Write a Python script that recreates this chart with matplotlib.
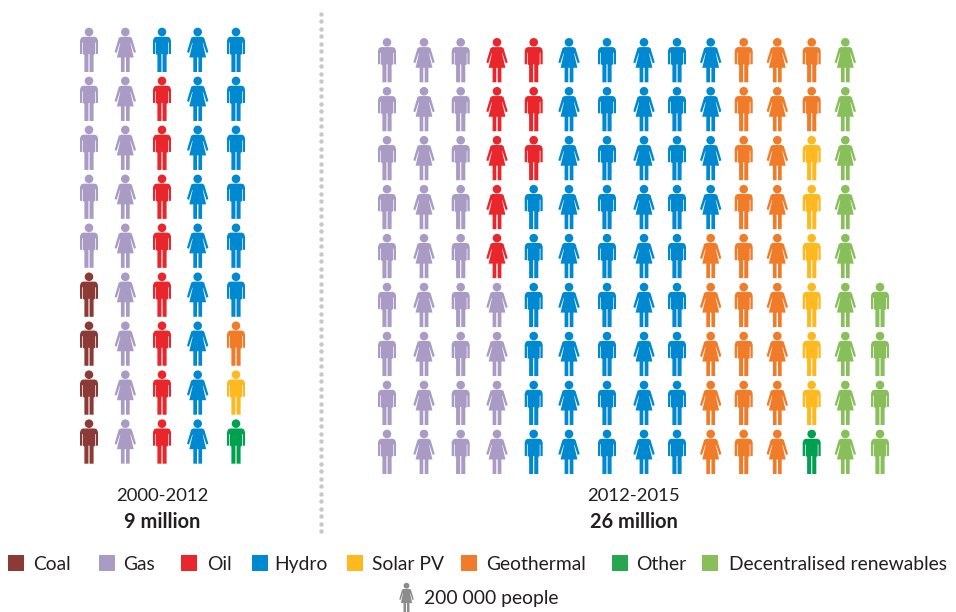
import matplotlib
matplotlib.use('Agg')
from matplotlib import pyplot as plt
from matplotlib.patches import PathPatch, Rectangle
from matplotlib.path import Path
from matplotlib.transforms import Affine2D
import numpy as np

plt.rcParams['font.family'] = ['Lato', 'DejaVu Sans']

colors = {'Coal': '#8a3b36', 'Gas': '#a99bc4', 'Oil': '#e8262b', 'Hydro': '#0089d0',
          'Solar PV': '#fdb91f', 'Geothermal': '#f07b29', 'Other': '#00a050',
          'Decentralised renewables': '#88bf5b'}

# each column top to bottom, one person = 200 000 people
left_cols = [
    ['Gas'] * 5 + ['Coal'] * 4,
    ['Gas'] * 9,
    ['Hydro'] * 1 + ['Oil'] * 8,
    ['Hydro'] * 9,
    ['Hydro'] * 6 + ['Geothermal', 'Solar PV', 'Other'],
]
right_cols = [
    ['Gas'] * 9,
    ['Gas'] * 9,
    ['Gas'] * 9,
    ['Oil'] * 5 + ['Gas'] * 4,
    ['Oil'] * 3 + ['Hydro'] * 6,
    ['Hydro'] * 9,
    ['Hydro'] * 9,
    ['Hydro'] * 9,
    ['Hydro'] * 9,
    ['Hydro'] * 4 + ['Geothermal'] * 5,
    ['Geothermal'] * 9,
    ['Geothermal'] * 9,
    ['Geothermal'] * 2 + ['Solar PV'] * 6 + ['Other'],
    ['Decentralised renewables'] * 9,
    [None] * 5 + ['Decentralised renewables'] * 4,
]
left_x = [89, 125.3, 162, 197.7, 236]
right_x = [387, 424, 460.7, 497, 533.7, 569, 607, 644, 677, 710.7, 743.7, 777.3, 811.7, 845.3, 880]
left_gender = ['m', 'f', 'm', 'f', 'm']
right_gender = ['m', 'f', 'm', 'f', 'm', 'f', 'm', 'f', 'm', 'f', 'm', 'f', 'm', 'f', 'm']

legend_names = ['Coal', 'Gas', 'Oil', 'Hydro', 'Solar PV', 'Geothermal', 'Other', 'Decentralised renewables']
legend_colors = ['#8a3b36', '#a99bc4', '#e8262b', '#0089d0', '#fdb91f', '#f07b29', '#27a650', '#88bf5b']
legend_box_x = [8, 99, 181, 252, 347, 461, 612, 702]
legend_text_x = [33, 123, 207, 274, 372, 486, 636, 729]

# person outlines, origin = centre of the head top, in pixels
head = Path.circle((0, 4), 4.3)
man_body = Path([(-6, 8.8), (6, 8.8), (8, 9.8), (9, 12.5), (9, 26), (6.7, 26), (6.7, 14.5), (6, 14.5),
                 (6, 26), (4.6, 27), (4.6, 44), (0.55, 44), (0.55, 26), (-0.55, 26), (-0.55, 44),
                 (-4.6, 44), (-4.6, 27), (-6, 26), (-6, 14.5), (-6.7, 14.5), (-6.7, 26),
                 (-9, 26), (-9, 12.5), (-8, 9.8), (-6, 8.8)], closed=True)
woman_body = Path([(-4.5, 8.8), (4.5, 8.8), (6.5, 9.8), (10.7, 24), (8.7, 25), (5.4, 15), (5, 15),
                   (8.4, 29.5), (4.4, 29.5), (4.4, 44), (0.7, 44), (0.7, 29.5), (-0.7, 29.5), (-0.7, 44),
                   (-4.4, 44), (-4.4, 29.5), (-8.4, 29.5), (-5, 15), (-5.4, 15), (-8.7, 25),
                   (-10.7, 24), (-6.5, 9.8), (-4.5, 8.8)], closed=True)
shapes = {'m': Path.make_compound_path(head, man_body),
          'f': Path.make_compound_path(head, woman_body)}


def add_person(ax, x, y, gender, color, scale=1.0):
    tr = Affine2D().scale(scale).translate(x, y) + ax.transData
    ax.add_patch(PathPatch(shapes[gender], facecolor=color, edgecolor='none', transform=tr))


def draw_grid(ax, cols, xs, genders, top):
    for col, x, g in zip(cols, xs, genders):
        for i, name in enumerate(col):
            if name is not None:
                add_person(ax, x, top + i * 48.96, g, colors[name])


fig = plt.figure(figsize=(9.56, 6.12), dpi=100)
ax = fig.add_axes([0, 0, 1, 1])
ax.set_xlim(0, 956)
ax.set_ylim(612, 0)
ax.axis('off')

draw_grid(ax, left_cols, left_x, left_gender, 28)
draw_grid(ax, right_cols, right_x, right_gender, 38.3)

# dotted divider
dots_y = np.arange(13.7, 534, 7.5)
ax.plot(np.full(len(dots_y), 321.5), dots_y, 'o', ms=3.2, mew=0, color='#c8c8c8')

text_color = '#231f20'
ax.text(162, 496, '2000-2012', ha='center', va='center', fontsize=13.3, color=text_color)
ax.text(162, 522, '9 million', ha='center', va='center', fontsize=14.4, fontweight='bold', color=text_color)
ax.text(633.5, 496, '2012-2015', ha='center', va='center', fontsize=13.3, color=text_color)
ax.text(633.5, 522, '26 million', ha='center', va='center', fontsize=14.4, fontweight='bold', color=text_color)

for name, c, bx, tx in zip(legend_names, legend_colors, legend_box_x, legend_text_x):
    ax.add_patch(Rectangle((bx, 555), 16, 16, facecolor=c, edgecolor='none'))
    ax.text(tx, 570, name, ha='left', va='baseline', fontsize=13.9, color=text_color)

add_person(ax, 406.5, 583, 'f', '#8c8c8c', scale=0.68)
ax.text(424, 604, '200 000 people', ha='left', va='baseline', fontsize=13.9, color=text_color)

fig.savefig('out.png', dpi=100)
